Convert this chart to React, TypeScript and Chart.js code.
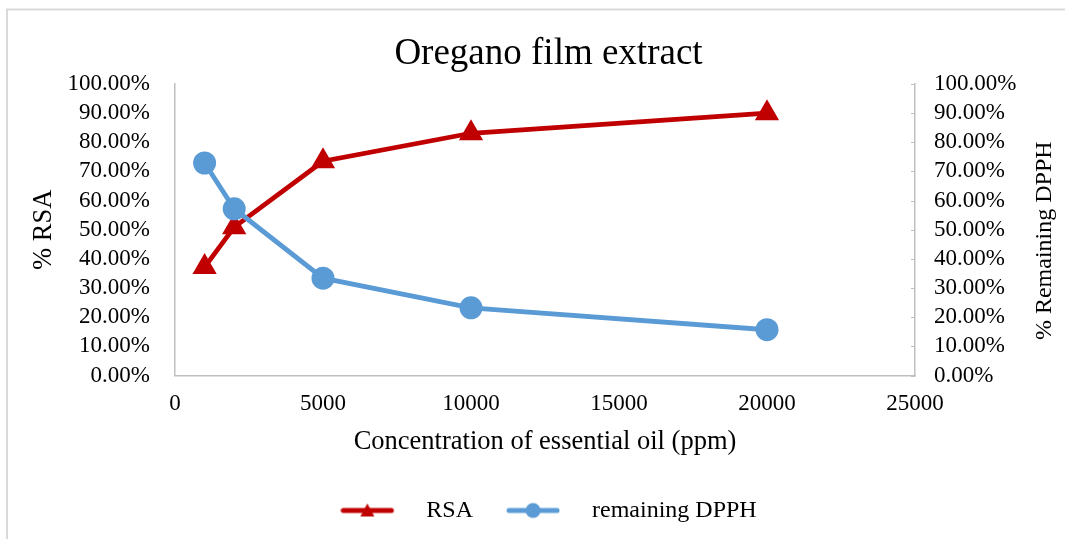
import React, { useEffect, useRef } from 'react';
import { Chart, registerables } from 'chart.js';

Chart.register(...registerables);

const chartTitle = 'Oregano film extract';
const xAxisTitle = 'Concentration of essential oil (ppm)';
const leftAxisTitle = '% RSA';
const rightAxisTitle = '% Remaining DPPH';
const seriesLabels = ['RSA', 'remaining DPPH'];
const concentrations = [1000, 2000, 5000, 10000, 20000];
const rsaValues = [37.2, 50.9, 73.5, 83.1, 90.0];
const dpphValues = [72.9, 57.2, 33.4, 23.2, 15.7];
const xTickValues = [0, 5000, 10000, 15000, 20000, 25000];
const yTickValues = [0, 10, 20, 30, 40, 50, 60, 70, 80, 90, 100];

const RED = '#C00000';
const BLUE = '#5B9BD5';
const AXIS = '#bfbfbf';
const FONT = "'Liberation Serif', 'Times New Roman', serif";

function makeIcon(color: string, kind: 'triangle' | 'circle') {
  const c = document.createElement('canvas');
  c.width = 74;
  c.height = 20;
  const ctx = c.getContext('2d')!;
  ctx.strokeStyle = color;
  ctx.lineWidth = 5;
  ctx.lineCap = 'round';
  ctx.beginPath();
  ctx.moveTo(3, 10);
  ctx.lineTo(51, 10);
  ctx.stroke();
  ctx.fillStyle = color;
  ctx.beginPath();
  if (kind === 'triangle') {
    ctx.moveTo(27, 3);
    ctx.lineTo(34, 16);
    ctx.lineTo(20, 16);
    ctx.closePath();
  } else {
    ctx.arc(27, 10, 7.5, 0, Math.PI * 2);
  }
  ctx.fill();
  return c;
}

const framePlugin = {
  id: 'frame',
  beforeDraw(chart: any) {
    const ctx = chart.ctx;
    ctx.save();
    ctx.fillStyle = '#ffffff';
    ctx.fillRect(0, 0, chart.width, chart.height);
    ctx.strokeStyle = '#d9d9d9';
    ctx.lineWidth = 2;
    ctx.strokeRect(7, 9.5, chart.width + 10, chart.height + 10);
    ctx.restore();
  },
  afterDraw(chart: any) {
    const ctx = chart.ctx;
    const s = chart.scales.y1;
    ctx.save();
    // inward tick marks on the secondary axis
    ctx.strokeStyle = AXIS;
    ctx.lineWidth = 1;
    yTickValues.forEach((v) => {
      const y = Math.round(s.getPixelForValue(v)) + 0.5;
      ctx.beginPath();
      ctx.moveTo(s.left - 4, y);
      ctx.lineTo(s.left, y);
      ctx.stroke();
    });
    // right axis title, reading bottom to top
    const x = s.right - 6 - 14.4;
    const y = (s.top + s.bottom) / 2 + 11;
    ctx.translate(x, y);
    ctx.rotate(-Math.PI / 2);
    ctx.fillStyle = '#000';
    ctx.font = `24px ${FONT}`;
    ctx.textAlign = 'center';
    ctx.textBaseline = 'middle';
    ctx.fillText(rightAxisTitle, 0, 0);
    ctx.restore();
  },
};

export default function App() {
  const ref = useRef<HTMLCanvasElement>(null);

  useEffect(() => {
    const canvas = ref.current!;
    const icons = [makeIcon(RED, 'triangle'), makeIcon(BLUE, 'circle')];
    const pctTick = (v: any) => Number(v).toFixed(2) + '%';
    const chart = new Chart(canvas, {
      type: 'line',
      data: {
        datasets: [
          {
            label: seriesLabels[0],
            data: concentrations.map((x, i) => ({ x, y: rsaValues[i] })),
            borderColor: RED,
            backgroundColor: RED,
            borderWidth: 4.8,
            pointStyle: 'triangle',
            pointRadius: 14,
            pointBorderWidth: 0,
            pointBackgroundColor: RED,
            yAxisID: 'y',
            order: 2,
          },
          {
            label: seriesLabels[1],
            data: concentrations.map((x, i) => ({ x, y: dpphValues[i] })),
            borderColor: BLUE,
            backgroundColor: BLUE,
            borderWidth: 4.8,
            pointStyle: 'circle',
            pointRadius: 11.5,
            pointBorderWidth: 0,
            pointBackgroundColor: BLUE,
            yAxisID: 'y1',
            order: 1,
          },
        ],
      },
      options: {
        animation: false,
        responsive: true,
        maintainAspectRatio: false,
        layout: { padding: { top: 11, left: 32, right: 0, bottom: 6.5 } },
        plugins: {
          title: {
            display: true,
            text: chartTitle,
            color: '#000',
            font: { family: FONT, size: 37, weight: 'normal' },
            padding: { top: 21, bottom: 7.6 },
          },
          legend: {
            display: true,
            position: 'bottom',
            labels: {
              usePointStyle: true,
              pointStyleWidth: 74,
              padding: 33,
              color: '#000',
              font: { family: FONT, size: 24 },
              sort: (a: any, b: any) => a.datasetIndex - b.datasetIndex,
              generateLabels: (ch: any) => {
                const items = Chart.defaults.plugins.legend.labels.generateLabels(ch);
                return items.map((it: any) => ({ ...it, pointStyle: icons[it.datasetIndex] }));
              },
            },
          },
          tooltip: { enabled: false },
        },
        scales: {
          x: {
            type: 'linear',
            min: xTickValues[0],
            max: xTickValues[xTickValues.length - 1],
            afterBuildTicks: (s: any) => {
              s.ticks = xTickValues.map((v) => ({ value: v }));
            },
            afterFit: (s: any) => {
              s.height = 90;
            },
            grid: { display: false, drawTicks: false },
            border: { display: true, color: AXIS, width: 1.5 },
            ticks: {
              color: '#000',
              font: { family: FONT, size: 23 },
              padding: 14.2,
              maxRotation: 0,
              autoSkip: false,
              callback: (v: any) => String(v),
            },
            title: {
              display: true,
              text: xAxisTitle,
              color: '#000',
              font: { family: FONT, size: 26.5 },
              padding: { top: 4, bottom: 7.6 },
            },
          },
          y: {
            type: 'linear',
            position: 'left',
            min: 0,
            max: 100,
            afterBuildTicks: (s: any) => {
              s.ticks = yTickValues.map((v) => ({ value: v }));
            },
            afterFit: (s: any) => {
              s.width = 143;
            },
            grid: { display: false, drawTicks: false },
            border: { display: true, color: AXIS, width: 1.5 },
            ticks: {
              color: '#000',
              font: { family: FONT, size: 23 },
              padding: 25,
              autoSkip: false,
              callback: pctTick,
            },
            title: {
              display: true,
              text: leftAxisTitle,
              color: '#000',
              font: { family: FONT, size: 26.5 },
              padding: { top: -4, bottom: 4 },
            },
          },
          y1: {
            type: 'linear',
            position: 'right',
            min: 0,
            max: 100,
            afterBuildTicks: (s: any) => {
              s.ticks = yTickValues.map((v) => ({ value: v }));
            },
            afterFit: (s: any) => {
              s.width = 150;
            },
            grid: { display: false, drawTicks: false },
            border: { display: true, color: AXIS, width: 1.5 },
            ticks: {
              color: '#000',
              font: { family: FONT, size: 23 },
              padding: 19,
              autoSkip: false,
              callback: pctTick,
            },
            title: {
              display: true,
              text: rightAxisTitle,
              color: 'rgba(0,0,0,0)',
              font: { family: FONT, size: 24 },
              padding: { top: 6, bottom: 4 },
            },
          },
        },
      },
      plugins: [framePlugin],
    } as any);
    return () => chart.destroy();
  }, []);

  return (
    <div style={{ position: 'fixed', left: 0, top: 0, width: 1065, height: 539, background: '#fff' }}>
      <canvas ref={ref} />
    </div>
  );
}
